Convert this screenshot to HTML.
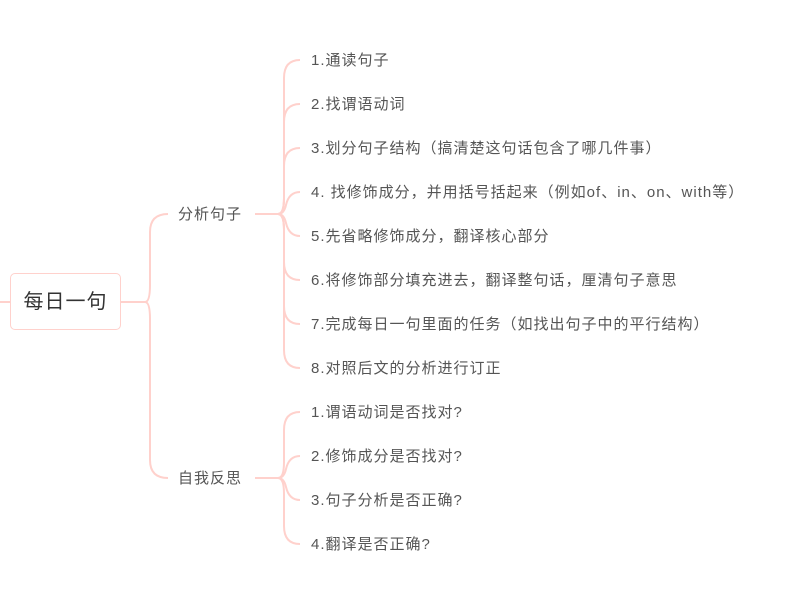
<!DOCTYPE html>
<html><head><meta charset="utf-8"><style>
body{margin:0;width:790px;height:599px;background:#fff;position:relative;overflow:hidden;font-family:"Liberation Sans","Noto Sans CJK SC",sans-serif;}
.t{position:absolute;font-size:15px;letter-spacing:1px;color:#555;line-height:20px;white-space:nowrap;margin-top:1px;}
.root{position:absolute;left:10px;top:273px;width:111px;height:57px;border:1px solid #ffd1cc;border-radius:5px;box-sizing:border-box;font-size:20px;letter-spacing:1px;color:#333;text-align:center;line-height:57px;background:#fff;}
</style></head><body>
<svg width="790" height="599" style="position:absolute;left:0;top:0" fill="none" stroke="#ffd1cc" stroke-width="2">
<path d="M0,302 H10"/>
<path d="M121,302 H145"/>
<path d="M145,302 Q150,302 150,285 L150,232 Q150,214 168,214"/>
<path d="M145,302 Q150,302 150,319 L150,460 Q150,478 168,478"/>
<path d="M255,214 H278"/>
<path d="M255,478 H278"/>
<path d="M278,214 Q284,214 284,198 L284,78 Q284,60 300,60"/>
<path d="M278,214 Q284,214 284,198 L284,122 Q284,104 300,104"/>
<path d="M278,214 Q284,214 284,198 L284,166 Q284,148 300,148"/>
<path d="M278,214 Q284,214 286,205 Q289,192 300,192"/>
<path d="M278,214 Q284,214 286,223 Q289,236 300,236"/>
<path d="M278,214 Q284,214 284,230 L284,262 Q284,280 300,280"/>
<path d="M278,214 Q284,214 284,230 L284,306 Q284,324 300,324"/>
<path d="M278,214 Q284,214 284,230 L284,350 Q284,368 300,368"/>
<path d="M278,478 Q284,478 284,462 L284,430 Q284,412 300,412"/>
<path d="M278,478 Q284,478 286,469 Q289,456 300,456"/>
<path d="M278,478 Q284,478 286,487 Q289,500 300,500"/>
<path d="M278,478 Q284,478 284,494 L284,526 Q284,544 300,544"/>
</svg>
<div class="root">每日一句</div>
<div class="t" style="left:178px;top:204px">分析句子</div>
<div class="t" style="left:178px;top:468px">自我反思</div>
<div class="t" style="left:311px;top:50px">1.通读句子</div>
<div class="t" style="left:311px;top:94px">2.找谓语动词</div>
<div class="t" style="left:311px;top:138px">3.划分句子结构（搞清楚这句话包含了哪几件事）</div>
<div class="t" style="left:311px;top:182px">4. 找修饰成分，并用括号括起来（例如of、in、on、with等）</div>
<div class="t" style="left:311px;top:226px">5.先省略修饰成分，翻译核心部分</div>
<div class="t" style="left:311px;top:270px">6.将修饰部分填充进去，翻译整句话，厘清句子意思</div>
<div class="t" style="left:311px;top:314px">7.完成每日一句里面的任务（如找出句子中的平行结构）</div>
<div class="t" style="left:311px;top:358px">8.对照后文的分析进行订正</div>
<div class="t" style="left:311px;top:402px">1.谓语动词是否找对?</div>
<div class="t" style="left:311px;top:446px">2.修饰成分是否找对?</div>
<div class="t" style="left:311px;top:490px">3.句子分析是否正确?</div>
<div class="t" style="left:311px;top:534px">4.翻译是否正确?</div>
</body></html>
